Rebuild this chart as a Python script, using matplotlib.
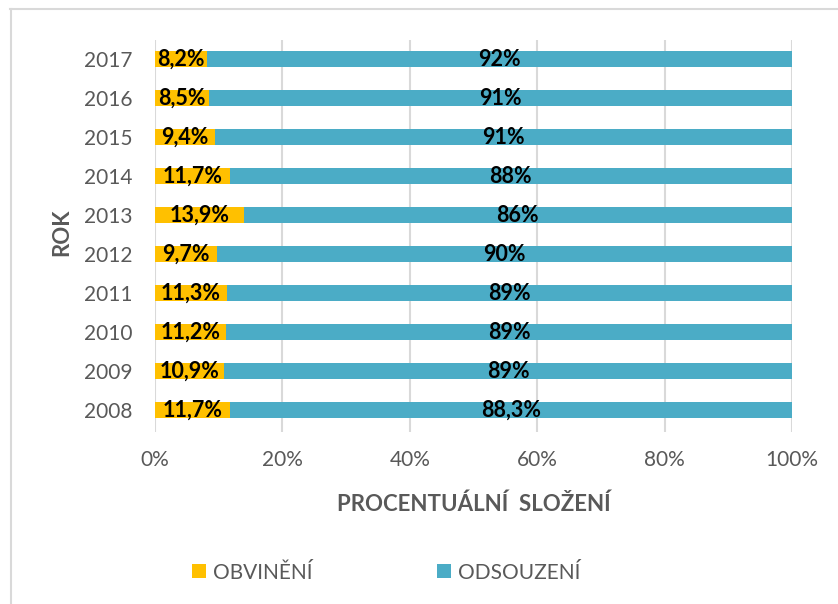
import matplotlib.pyplot as plt
import numpy as np

years = ["2008", "2009", "2010", "2011", "2012", "2013", "2014", "2015", "2016", "2017"]
obvineni = [11.7, 10.9, 11.2, 11.3, 9.7, 13.9, 11.7, 9.4, 8.5, 8.2]
odsouzeni = [88.3, 89.1, 88.8, 88.7, 90.3, 86.1, 88.3, 90.6, 91.5, 91.8]
lab_obv = ["11,7%", "10,9%", "11,2%", "11,3%", "9,7%", "13,9%", "11,7%", "9,4%", "8,5%", "8,2%"]
lab_ods = ["88,3%", "89%", "89%", "89%", "90%", "86%", "88%", "91%", "91%", "92%"]

plt.rcParams['font.family'] = ['Lato', 'DejaVu Sans']
gray = "#595959"

fig = plt.figure(figsize=(8.38, 6.04), dpi=100)
ax = fig.add_axes([0.185, 0.285, 0.76, 0.649])

y = np.arange(len(years))
b1 = ax.barh(y, obvineni, height=0.41, color="#FFC000", label="OBVINĚNÍ", zorder=3)
b2 = ax.barh(y, odsouzeni, left=obvineni, height=0.41, color="#4BACC6", label="ODSOUZENÍ", zorder=3)

for i in range(len(years)):
    ax.text(obvineni[i] / 2, y[i], lab_obv[i], ha="center", va="center",
            fontsize=15.5, fontweight="bold", color="black", zorder=4)
    ax.text(obvineni[i] + odsouzeni[i] / 2, y[i], lab_ods[i], ha="center", va="center",
            fontsize=15.5, fontweight="bold", color="black", zorder=4)

ax.set_xlim(0, 100)
ax.set_ylim(-0.55, 9.5)
ax.set_xticks([0, 20, 40, 60, 80, 100])
ax.set_xticklabels(["0%", "20%", "40%", "60%", "80%", "100%"])
ax.set_yticks(y)
ax.set_yticklabels(years)
ax.tick_params(length=0, labelsize=15, labelcolor=gray)
ax.tick_params(axis="x", pad=13)
ax.tick_params(axis="y", pad=16)
ax.grid(axis="x", color="#D9D9D9", linewidth=1.5, zorder=0)
for s in ax.spines.values():
    s.set_visible(False)

ax.set_xlabel("PROCENTUÁLNÍ  SLOŽENÍ", fontsize=16, fontweight="bold", color=gray, labelpad=17)
ax.set_ylabel("ROK", fontsize=16, fontweight="bold", color=gray)
ax.yaxis.set_label_coords(-0.13, 0.51)

fig.legend(handles=[b1, b2], loc="center", bbox_to_anchor=(0.461, 0.052), ncol=2,
           frameon=False, fontsize=15, labelcolor=gray, handlelength=0.65, handleheight=0.65,
           handletextpad=0.35, columnspacing=6.0)

# chart frame (only top and left visible in the crop)
fig.add_artist(plt.Line2D([0.012, 1.0], [0.985, 0.985], color="#D9D9D9", linewidth=1.5))
fig.add_artist(plt.Line2D([0.013, 0.013], [0.0, 0.985], color="#D9D9D9", linewidth=1.5))

fig.savefig("out.png", dpi=100)
